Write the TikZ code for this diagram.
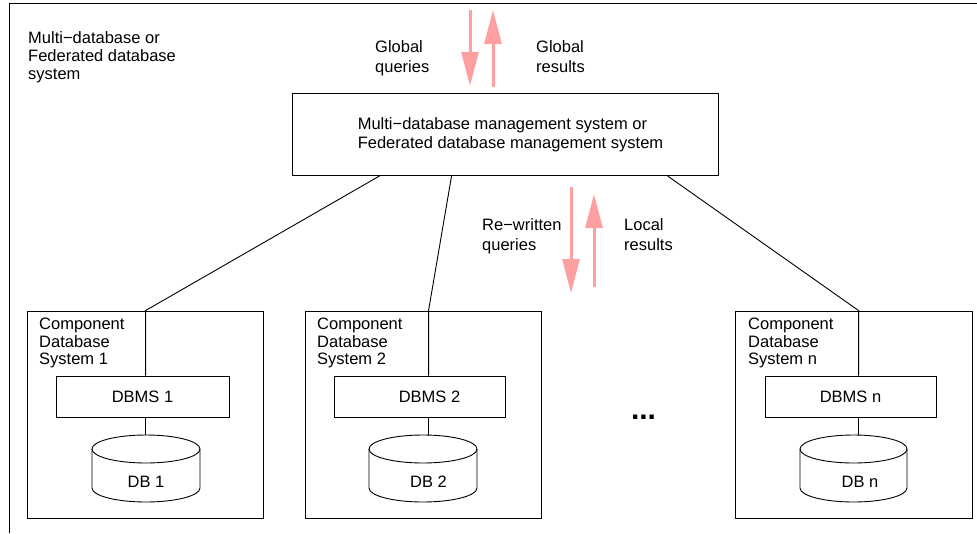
\documentclass[tikz,border=0pt]{standalone}
\usepackage{fontspec}
\setmainfont{Liberation Sans}
\usetikzlibrary{arrows.meta}
\definecolor{flow}{RGB}{255,160,160}
\newcommand{\dbcyl}[2]{% #1 = centre x, #2 = half width
  \draw[link] ({#1-#2},449) -- ({#1-#2},488)
    arc[start angle=180,end angle=360,x radius=#2 pt,y radius=14pt]
    -- ({#1+#2},449);
  \draw[link] (#1,449) ellipse [x radius=#2 pt,y radius=14pt];
}
\begin{document}
\begin{tikzpicture}[x=1pt,y=-1pt,
  font=\fontsize{16.5}{19}\selectfont,
  box/.style={draw=black, line width=0.9pt, inner sep=0pt},
  txt/.style={inner sep=0pt, anchor=north west, align=left},
  link/.style={draw=black, line width=0.9pt},
  flowarrow/.style={draw=flow, line width=3pt, -{Triangle[length=34pt,width=17pt]}},
]
\useasboundingbox (0,0) rectangle (977,533);
\fill[white] (0,0) rectangle (977,533);
% outer frame (clipped on right and bottom)
\coordinate (fa) at (9.5,533);
\coordinate (fb) at (9.5,3.5);
\coordinate (fc) at (977,3.5);
\draw[link] (fa) -- (fb) -- (fc);
\node[txt, font=\fontsize{16.5}{18}\selectfont] (sys) at (28,31) {Multi−database or\\Federated database\\system};

% main box
\node[box, minimum width=426pt, minimum height=82pt, align=left] (mdbs) at (505,134.5)
  {\hspace*{11pt}Multi−database management system or\\\hspace*{11pt}Federated database management system};

% component systems
\node[box, minimum width=236pt, minimum height=207pt] (cds1) at (145,414.5) {};
\node[box, minimum width=236pt, minimum height=207pt] (cds2) at (423,414.5) {};
\node[box, minimum width=237pt, minimum height=207pt] (cdsn) at (853.5,414.5) {};
\node[txt, font=\fontsize{16.5}{17.5}\selectfont] (cdl1) at (39,318) {Component\\Database\\System 1};
\node[txt, font=\fontsize{16.5}{17.5}\selectfont] (cdl2) at (317,318) {Component\\Database\\System 2};
\node[txt, font=\fontsize{16.5}{17.5}\selectfont] (cdln) at (748,318) {Component\\Database\\System n};

\node[box, minimum width=173pt, minimum height=41pt] (dbms1) at (142.5,396.5) {DBMS 1};
\node[box, minimum width=171pt, minimum height=41pt] (dbms2) at (419.5,396.5) {\hspace*{20pt}DBMS 2};
\node[box, minimum width=171pt, minimum height=41pt] (dbmsn) at (850.5,396.5) {DBMS n};

% database cylinders
\node[inner sep=0pt, minimum width=108pt, minimum height=67pt] (db1) at (146,468.5) {};
\node[inner sep=0pt, minimum width=108pt, minimum height=67pt] (db2) at (423,468.5) {};
\node[inner sep=0pt, minimum width=107pt, minimum height=67pt] (dbn) at (853.5,468.5) {};
\dbcyl{146}{54}
\dbcyl{423}{54}
\dbcyl{853.5}{53.5}
\node (db1t) at (146,482) {DB 1};
\node (db2t) at (428.5,482) {DB 2};
\node (dbnt) at (860,482) {DB n};

% connectors
\coordinate (m1) at ([xshift=88pt]mdbs.south west);
\coordinate (m2) at ([xshift=160pt]mdbs.south west);
\coordinate (m3) at ([xshift=376pt]mdbs.south west);
\coordinate (j1) at ([xshift=119pt]cds1.north west);
\coordinate (j2) at ([xshift=124pt]cds2.north west);
\coordinate (j3) at ([xshift=124pt]cdsn.north west);
\draw[link] (m1) -- (j1) -- (j1 |- dbms1.north);
\draw[link] (m2) -- (j2) -- (j2 |- dbms2.north);
\draw[link] (m3) -- (j3) -- (j3 |- dbmsn.north);
\draw[link] (j1 |- dbms1.south) -- (j1 |- db1.north);
\draw[link] (j2 |- dbms2.south) -- (j2 |- db2.north);
\draw[link] (j3 |- dbmsn.south) -- (j3 |- dbn.north);

% query / result flows
\coordinate (gq1) at (470,10);  \coordinate (gq2) at (470,86);
\coordinate (gr1) at (493,87);  \coordinate (gr2) at (493,10);
\coordinate (rq1) at (571,187); \coordinate (rq2) at (571,293);
\coordinate (lr1) at (594,287); \coordinate (lr2) at (594,194);
\draw[flowarrow] (gq1) -- (gq2);
\draw[flowarrow] (gr1) -- (gr2);
\draw[flowarrow] (rq1) -- (rq2);
\draw[flowarrow] (lr1) -- (lr2);
\node[txt, font=\fontsize{16.5}{20}\selectfont] (gql) at (375,40) {Global\\queries};
\node[txt, font=\fontsize{16.5}{20}\selectfont] (grl) at (536,40) {Global\\results};
\node[txt, font=\fontsize{16.5}{20}\selectfont] (rwl) at (482,218) {Re−written\\queries};
\node[txt, font=\fontsize{16.5}{20}\selectfont] (lrl) at (624,218) {Local\\results};

\node[anchor=base, inner sep=0pt, font=\bfseries\fontsize{30}{30}\selectfont] (dots) at (643.5,419) {...};
\end{tikzpicture}
\end{document}
